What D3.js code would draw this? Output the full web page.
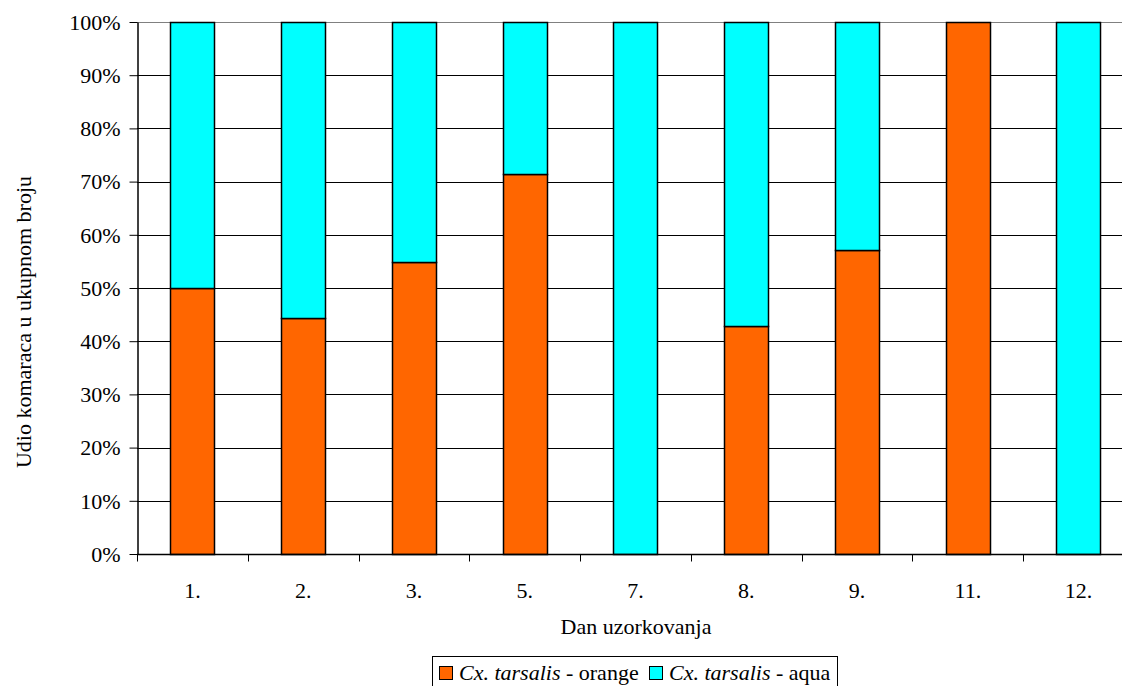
<!DOCTYPE html>
<html>
<head>
<meta charset="utf-8">
<script src="https://cdn.jsdelivr.net/npm/d3@7"></script>
<style>
  body { margin: 0; background: #fff; }
  svg { display: block; }
  svg text { font-family: "Liberation Serif", "Times New Roman", serif; fill: #000; }
</style>
</head>
<body>
<svg id="chart" width="1122" height="686"></svg>
<script>
// sampling days and the share of each colour form
const days = ['1.', '2.', '3.', '5.', '7.', '8.', '9.', '11.', '12.'];
const orangeShare = [0.50, 0.444, 0.548, 0.714, 0, 0.429, 0.571, 1, 0];
const aquaShare = orangeShare.map(v => 1 - v);
const yTicks = [0, 0.1, 0.2, 0.3, 0.4, 0.5, 0.6, 0.7, 0.8, 0.9, 1];
const seriesNames = ['orange', 'aqua'];
const colors = {orange: '#ff6600', aqua: '#00ffff'};

let rows = days.map((d, i) => ({day: d, orange: orangeShare[i], aqua: aquaShare[i]}));

let svg = d3.select('#chart');
let plotLeft = 137, plotTop = 22, plotBottom = 554, plotRight = 1134;
let fs = 22;

let x = d3.scaleBand().domain(days).range([plotLeft, plotRight]).paddingInner(0.6).paddingOuter(0.3);
let xTick = d3.scaleBand().domain(days).range([plotLeft, plotRight]);
let y = d3.scaleLinear().domain([0, 1]).range([plotBottom, plotTop]);

// gridlines
svg.append('g')
  .selectAll('line')
  .data(yTicks.slice(1))
  .enter()
  .append('line')
  .attr('x1', plotLeft).attr('x2', plotRight)
  .attr('y1', d => Math.round(y(d)) + 0.5).attr('y2', d => Math.round(y(d)) + 0.5)
  .attr('stroke', d => d === 1 ? '#808080' : '#000')
  .attr('stroke-width', 1);

// stacked bars
let stack = d3.stack().keys(seriesNames)(rows);
svg.append('g')
  .selectAll('g')
  .data(stack)
  .enter()
  .append('g')
  .attr('fill', s => colors[s.key])
  .selectAll('rect')
  .data(s => s.filter(p => p[1] - p[0] > 0))
  .enter()
  .append('rect')
  .attr('x', p => Math.round(x(p.data.day)) + 0.5)
  .attr('width', Math.round(x.bandwidth()))
  .attr('y', p => Math.round(y(p[1])) + 0.5)
  .attr('height', p => Math.round(y(p[0])) - Math.round(y(p[1])))
  .attr('stroke', '#000')
  .attr('stroke-width', 1.5);

// y axis
let yAxis = d3.axisLeft(y).tickValues(yTicks).tickFormat(d3.format('.0%')).tickSize(8).tickSizeOuter(0);
let gy = svg.append('g').attr('transform', 'translate(' + (plotLeft + 0.5) + ',0)').call(yAxis);
gy.attr('font-family', null).attr('font-size', null);
gy.select('.domain').attr('stroke', '#000').attr('stroke-width', 1.5);
gy.selectAll('.tick line').attr('stroke', '#000');
gy.selectAll('.tick text').attr('font-size', fs).attr('x', -17).attr('dy', '0.33em');

// x axis with ticks between categories
let gx = svg.append('g').attr('transform', 'translate(0,' + (plotBottom + 0.5) + ')');
gx.append('line').attr('x1', plotLeft).attr('x2', plotRight).attr('stroke', '#000').attr('stroke-width', 1.5);
gx.selectAll('.tk')
  .data(days)
  .enter()
  .append('line')
  .attr('x1', d => Math.round(xTick(d)) + 0.5).attr('x2', d => Math.round(xTick(d)) + 0.5)
  .attr('y1', 0).attr('y2', 7)
  .attr('stroke', '#000');
gx.selectAll('text')
  .data(days)
  .enter()
  .append('text')
  .attr('x', d => xTick(d) + xTick.bandwidth() / 2)
  .attr('y', 43)
  .attr('text-anchor', 'middle')
  .attr('font-size', fs)
  .text(d => d);

// axis titles
svg.append('text')
  .attr('x', 636).attr('y', 634)
  .attr('text-anchor', 'middle')
  .attr('font-size', fs)
  .text('Dan uzorkovanja');

svg.append('text')
  .attr('transform', 'translate(31,' + 322 + ') rotate(-90)')
  .attr('text-anchor', 'middle')
  .attr('font-size', fs)
  .text('Udio komaraca u ukupnom broju');

// legend (box runs past the bottom edge, as in the original)
let legend = svg.append('g');
legend.append('rect')
  .attr('x', 432.5).attr('y', 656.5).attr('width', 405).attr('height', 40)
  .attr('fill', '#fff').attr('stroke', '#000');
let lx = [439, 649];
seriesNames.forEach((name, i) => {
  legend.append('rect')
    .attr('x', lx[i] + 0.5).attr('y', 666.5).attr('width', 13).attr('height', 13)
    .attr('fill', colors[name]).attr('stroke', '#000');
  let t = legend.append('text')
    .attr('x', lx[i] + 20).attr('y', 680)
    .attr('font-size', fs);
  t.append('tspan').attr('font-style', 'italic').text('Cx. tarsalis');
  t.append('tspan').text(' - ' + name);
});
</script>
</body>
</html>
